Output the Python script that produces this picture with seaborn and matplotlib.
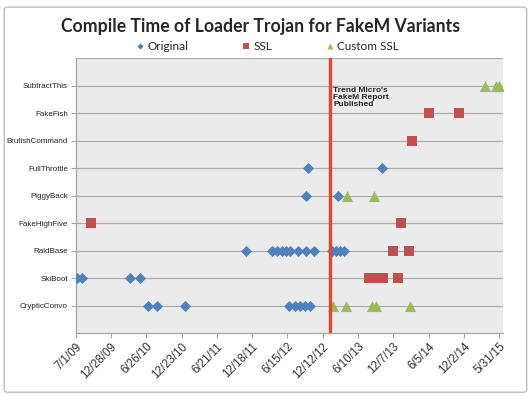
import pandas as pd
import matplotlib.pyplot as plt
from matplotlib.patches import FancyBboxPatch
import seaborn as sns

# Variants, bottom row first
variants = ["CrypticConvo", "SkiBoot", "RaidBase", "FakeHighFive", "PiggyBack",
            "FullThrottle", "BrutishCommand", "FakeFish", "SubtractThis"]

# Original loader compile times
original_variant = ["CrypticConvo"] * 8 + ["SkiBoot"] * 4 + ["RaidBase"] * 13 \
    + ["FullThrottle"] * 2 + ["PiggyBack"] * 2
original_date = ["2010-07-05", "2010-08-20", "2011-01-11", "2012-06-23", "2012-07-24",
                 "2012-08-18", "2012-09-13", "2012-10-08",
                 "2009-07-09", "2009-08-04", "2010-04-06", "2010-05-27",
                 "2011-11-19", "2012-03-27", "2012-04-21", "2012-05-17", "2012-06-10",
                 "2012-06-28", "2012-08-08", "2012-09-18", "2012-10-27",
                 "2013-01-29", "2013-02-18", "2013-03-10", "2013-03-31",
                 "2012-09-27", "2013-10-09",
                 "2012-09-16", "2013-02-26"]

# SSL loader compile times
ssl_variant = ["FakeHighFive"] * 2 + ["RaidBase"] * 2 + ["SkiBoot"] * 5 \
    + ["BrutishCommand"] + ["FakeFish"] * 2
ssl_date = ["2009-09-15", "2014-01-15",
            "2013-12-07", "2014-02-23",
            "2013-08-06", "2013-08-31", "2013-09-23", "2013-10-16", "2014-01-02",
            "2014-03-10",
            "2014-06-09", "2014-11-09"]

# Custom SSL loader compile times
custom_variant = ["CrypticConvo"] * 5 + ["PiggyBack"] * 2 + ["SubtractThis"] * 3
custom_date = ["2013-02-03", "2013-04-11", "2013-08-18", "2013-09-08", "2014-03-04",
               "2013-04-13", "2013-09-01",
               "2015-03-20", "2015-05-15", "2015-05-29"]

tick_labels = ["7/1/09", "12/28/09", "6/26/10", "12/23/10", "6/21/11", "12/18/11",
               "6/15/12", "12/12/12", "6/10/13", "12/7/13", "6/5/14", "12/2/14", "5/31/15"]
report_date = "2013-01-18"
report_text = "Trend Micro's\nFakeM Report\nPublished"

series = [
    ("Original", original_variant, original_date, "D", "#4F81BD", 32),
    ("SSL", ssl_variant, ssl_date, "s", "#C0504D", 62),
    ("Custom SSL", custom_variant, custom_date, "^", "#9BBB59", 64),
]

sns.set_style("white")
plt.rcParams['font.family'] = ['Liberation Sans', 'DejaVu Sans']

fig = plt.figure(figsize=(5.32, 3.97), dpi=100)
ax = fig.add_axes([0.1423, 0.1612, 0.946 - 0.1423, 0.8539 - 0.1612])
ax.set_facecolor("#EBEBEB")

for name, var, dates, marker, color, size in series:
    df = pd.DataFrame({"Variant": var, "Date": pd.to_datetime(dates)})
    df["Row"] = [variants.index(v) + 1 for v in df["Variant"]]
    sns.scatterplot(x="Date", y="Row", data=df, marker=marker, color=color, s=size,
                    linewidth=0, ax=ax, label=name, zorder=4)

ax.axvline(pd.to_datetime(report_date), color="#E8432D", lw=2.4, zorder=5)
ax.text(pd.to_datetime("2013-02-05"), 8.95, report_text, fontsize=6, fontweight="bold",
        color="#222222", va="top", ha="left", linespacing=1.05, zorder=6)

ticks = pd.to_datetime(tick_labels, format="%m/%d/%y")
ax.set_xticks(ticks)
ax.set_xticklabels(tick_labels, rotation=45, ha="right", rotation_mode="anchor",
                   fontsize=8.3, color="#333333")
ax.set_xlim(pd.to_datetime("2009-07-01"), pd.to_datetime("2015-06-21"))

ax.set_yticks(range(1, 10))
ax.set_yticklabels(variants, fontsize=5.8, color="#222222")
ax.set_ylim(0, 10)
for y in range(1, 11):
    ax.axhline(y, color="#ADADAD", lw=0.9, zorder=1)

ax.set_xlabel("")
ax.set_ylabel("")
for side in ["top", "right"]:
    ax.spines[side].set_visible(False)
for side in ["left", "bottom"]:
    ax.spines[side].set_color("#A6A6A6")
    ax.spines[side].set_linewidth(0.9)
ax.tick_params(axis="both", direction="out", length=3.5, width=0.8, color="#A6A6A6",
               bottom=True, left=True, pad=2)

ax.get_legend().remove()
handles, labels = ax.get_legend_handles_labels()
fig.legend(handles, labels, loc="center", bbox_to_anchor=(0.503, 0.884), ncol=3,
           frameon=False, prop={"family": "Lato", "size": 8.5}, markerscale=0.55,
           handlelength=0.6, handletextpad=0.3, columnspacing=4.6)

fig.text(0.49, 0.932, "Compile Time of Loader Trojan for FakeM Variants", ha="center",
         va="center", fontsize=12.7, fontweight="bold", family="Lato")

border = FancyBboxPatch((0.008, 0.012), 0.982, 0.97, boxstyle="round,pad=0,rounding_size=0.006",
                        transform=fig.transFigure, fill=False, edgecolor="#BFBFBF", lw=1)
fig.patches.append(border)

fig.savefig("out.png", dpi=100)
